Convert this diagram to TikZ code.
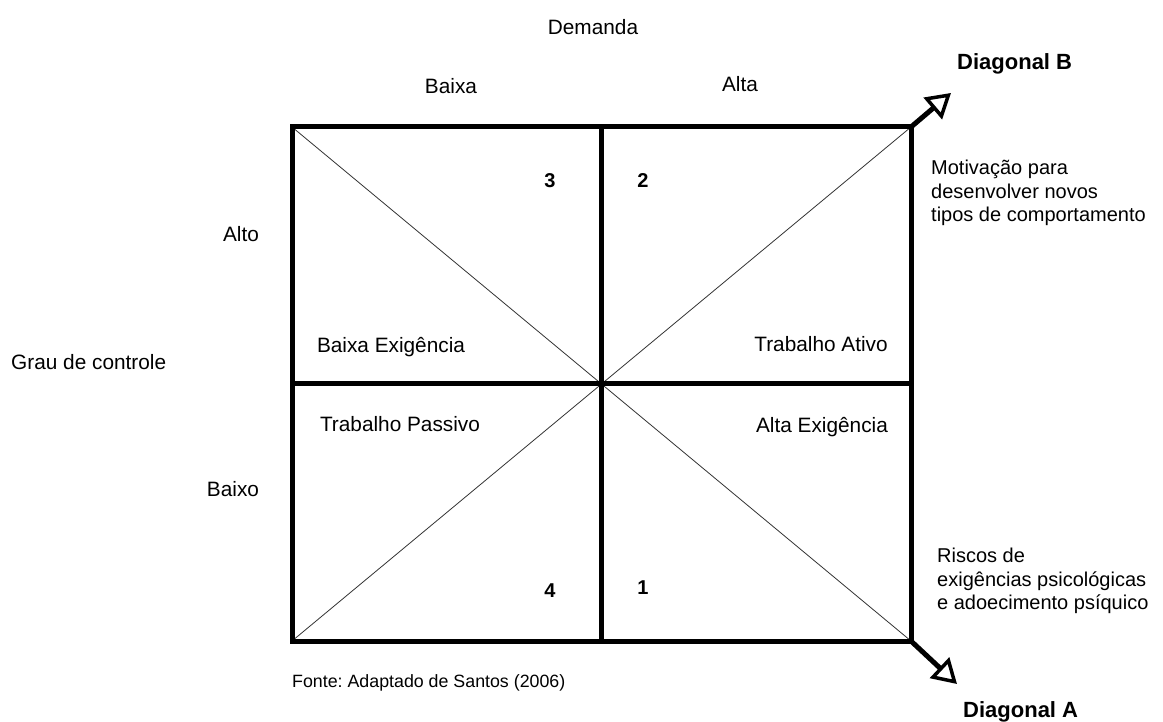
\documentclass[tikz,border=0pt]{standalone}
\usepackage{fontspec}
\setmainfont{Liberation Sans}
\usetikzlibrary{arrows.meta}
\frenchspacing
\begin{document}
\begin{tikzpicture}[x=1pt,y=-1pt,
  frame/.style={line width=5pt},
  diag/.style={line width=0.8pt,black!80},
  lbl/.style={inner sep=0pt,font=\fontsize{20.8}{24}\selectfont},
  note/.style={inner sep=0pt,anchor=west,align=left,font=\fontsize{20}{23.5}\selectfont},
  bld/.style={inner sep=0pt,font=\fontsize{22}{26}\selectfont\bfseries},
  num/.style={inner sep=0pt,font=\fontsize{20}{24}\selectfont\bfseries},
  diagarrow/.style={line width=5pt,-{Triangle[open,length=24pt,width=28pt,line width=3.5pt]}}]
\useasboundingbox (0,0) rectangle (1163,722);
\coordinate (tl) at (292,127);
\coordinate (tr) at (911,127);
\coordinate (bl) at (292,641);
\coordinate (br) at (911,641);
\coordinate (tm) at (601,127);
\coordinate (bm) at (601,641);
\coordinate (lm) at (292,383);
\coordinate (rm) at (911,383);
\coordinate (endB) at (951,93);
\coordinate (endA) at (957,684);
% diagonals
\draw[diag] (tl) -- (br);
\draw[diag] (bl) -- (tr);
% frame
\draw[frame] (tl) rectangle (br);
\draw[frame] (tm) -- (bm);
\draw[frame] (lm) -- (rm);
% arrows
\draw[diagarrow] (tr) -- (endB);
\draw[diagarrow] (br) -- (endA);
% labels
\node[lbl] (demanda) at (593,27) {Demanda};
\node[lbl] (baixa) at (451,86) {Baixa};
\node[lbl] (alta) at (740,84) {Alta};
\node[bld,anchor=west] (diagB) at (957,64) {Diagonal B};
\node[lbl] (alto) at (241,234) {Alto};
\node[lbl,anchor=west] (grau) at (11,362) {Grau de controle};
\node[lbl] (baixo) at (233,489) {Baixo};
\node[note] (motiv) at (931,193) {Motivação para\\desenvolver novos\\tipos de comportamento};
\node[lbl] (bex) at (391,347) {Baixa Exigência};
\node[lbl] (tat) at (821,344) {Trabalho Ativo};
\node[lbl] (tpa) at (400,424) {Trabalho Passivo};
\node[lbl] (aex) at (822,427) {Alta Exigência};
\node[num] (n3) at (550,181) {3};
\node[num] (n2) at (643,181) {2};
\node[num] (n4) at (550,591) {4};
\node[num] (n1) at (643,588) {1};
\node[note] (riscos) at (937,581) {Riscos de\\exigências psicológicas\\e adoecimento psíquico};
\node[inner sep=0pt,anchor=west,font=\fontsize{17.8}{20}\selectfont] (fonte) at (292,683) {Fonte: Adaptado de Santos (2006)};
\node[bld,anchor=west] (diagA) at (963,712) {Diagonal A};
\end{tikzpicture}
\end{document}
